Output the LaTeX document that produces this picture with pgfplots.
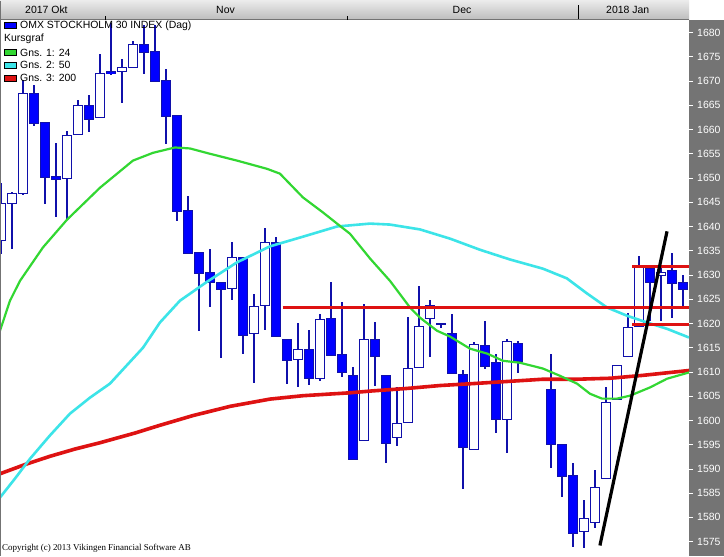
\documentclass[border=0pt]{standalone}
\usepackage{fontspec}
\setmainfont{Liberation Sans}
\newfontfamily\serifc{Liberation Serif}
\usepackage{pgfplots}
\usepackage{pgfplotstable}
\pgfplotsset{compat=1.18}
\definecolor{wickblue}{RGB}{16,16,170}
\definecolor{bodyblue}{RGB}{0,0,255}
\definecolor{maGreen}{RGB}{50,215,50}
\definecolor{maCyan}{RGB}{60,228,232}
\definecolor{maRed}{RGB}{222,18,18}
\definecolor{panelgray}{RGB}{116,116,116}

\pgfplotstableread{
k o h l c
0 1637.1 1648.9 1634.4 1644.7
1 1644.7 1647.2 1635.4 1646.8
2 1646.8 1670.3 1646.5 1667.4
3 1667.4 1669.3 1660.8 1661.2
4 1661.4 1661.6 1644.7 1650.1
5 1650.3 1657.3 1642.0 1649.7
6 1649.9 1659.6 1641.4 1658.8
7 1659.0 1666.0 1658.8 1664.9
8 1664.9 1667.2 1659.4 1662.1
9 1662.5 1675.5 1662.3 1671.5
10 1672.0 1682.0 1671.3 1671.5
11 1672.0 1674.6 1665.4 1672.8
12 1672.8 1678.3 1672.6 1677.5
13 1677.5 1681.5 1671.5 1675.9
14 1676.1 1681.5 1669.9 1669.9
15 1670.1 1672.6 1657.1 1662.7
16 1662.9 1663.0 1641.2 1643.1
17 1643.3 1646.2 1634.4 1634.4
18 1634.6 1634.8 1618.5 1630.3
19 1630.5 1635.4 1623.3 1628.4
20 1628.4 1628.5 1612.8 1627.0
21 1627.2 1636.9 1624.9 1633.6
22 1633.6 1633.8 1613.8 1617.5
23 1617.9 1626.0 1607.8 1623.5
24 1623.7 1639.8 1618.7 1636.7
25 1636.7 1637.9 1617.3 1617.3
26 1616.7 1616.8 1607.6 1612.3
27 1612.5 1620.2 1606.8 1614.6
28 1614.6 1618.7 1607.4 1608.6
29 1608.6 1622.0 1608.2 1620.8
30 1621.0 1628.6 1613.4 1613.4
31 1613.6 1624.5 1609.0 1609.9
32 1609.2 1611.1 1591.9 1591.9
33 1595.8 1624.1 1595.8 1616.7
34 1616.7 1620.4 1607.0 1613.2
35 1609.2 1609.3 1591.3 1595.2
36 1596.5 1607.0 1594.8 1599.3
37 1599.6 1621.4 1599.6 1610.7
38 1610.9 1627.8 1610.9 1619.4
39 1621.0 1624.9 1613.0 1623.7
40 1619.9 1620.2 1619.0 1619.7
41 1617.9 1622.0 1609.7 1609.7
42 1609.5 1610.5 1585.9 1594.4
43 1594.0 1616.1 1594.0 1615.6
44 1615.4 1620.6 1610.7 1611.1
45 1611.9 1613.6 1597.5 1600.2
46 1600.2 1616.9 1593.2 1616.3
47 1615.9 1616.3 1609.7 1612.1
50 1606.4 1613.8 1590.1 1595.0
51 1595.0 1595.1 1584.3 1588.4
52 1588.6 1591.3 1573.8 1576.7
53 1577.1 1583.5 1573.8 1579.7
54 1579.0 1589.7 1577.9 1586.2
55 1588.0 1606.8 1588.0 1603.7
56 1604.3 1611.5 1604.3 1611.3
57 1613.2 1622.2 1613.2 1619.1
58 1619.4 1634.0 1619.4 1631.9
59 1631.3 1631.5 1620.6 1628.5
60 1629.9 1631.5 1620.6 1630.5
61 1630.9 1634.6 1621.2 1628.2
62 1628.4 1630.1 1623.1 1627.0
}\ohlc

\pgfplotsset{
  candlebar/.style={draw=none, mark=none, forget plot,
    error bars/.cd, y dir=both, y explicit, error mark=none,
    error bar style={#1}},
}

\begin{document}
\begin{tikzpicture}
\begin{scope}[x=1bp,y=1bp]
\useasboundingbox (0,0) rectangle (724,555);
\fill[white] (0,0) rectangle (724,555);
\fill[panelgray] (689,0) rectangle (724,536);
\shade[top color=black!8, bottom color=black!26] (0,536) rectangle (689,555);
\draw[black!55, line width=0.8] (0,536.4) -- (689,536.4);
\end{scope}

\begin{axis}[
  at={(0,0)}, anchor=south west,
  scale only axis, width=689bp, height=536bp,
  xmin=-0.09, xmax=62.55,
  ymin=1572.12, ymax=1682.68,
  axis x line=none,
  axis y line*=right,
  y axis line style={draw=none},
  ytick={1575,1580,...,1680},
  tick align=outside,
  major tick length=4bp,
  ytick style={draw=white, line width=0.8bp},
  yticklabel style={font=\fontsize{10.5}{12}\selectfont, text=white, anchor=west, inner sep=0pt, xshift=4bp},
  /pgf/number format/assume math mode=true,
  /pgf/number format/1000 sep={},
  clip=true,
]
% wicks
\addplot[candlebar={draw=wickblue, line width=1.2bp}]
  table[x=k, y expr={(\thisrow{h}+\thisrow{l})/2}, y error expr={(\thisrow{h}-\thisrow{l})/2}] {\ohlc};
% body outline
\addplot[candlebar={draw=wickblue, line width=10bp}]
  table[x=k, y expr={(\thisrow{o}+\thisrow{c})/2}, y error expr={abs(\thisrow{o}-\thisrow{c})/2+0.11}] {\ohlc};
% down bodies (filled)
\addplot[candlebar={draw=bodyblue, line width=8bp}]
  table[x=k, y expr={(\thisrow{o}+\thisrow{c})/2}, y error expr={\thisrow{c}<\thisrow{o} ? max(abs(\thisrow{o}-\thisrow{c})/2-0.1,0) : 0}] {\ohlc};
% up bodies (white)
\addplot[candlebar={draw=white, line width=8bp}]
  table[x=k, y expr={(\thisrow{o}+\thisrow{c})/2}, y error expr={\thisrow{c}>\thisrow{o} ? max(abs(\thisrow{o}-\thisrow{c})/2-0.1,0) : 0}] {\ohlc};

% MA 200
\addplot[maRed, line width=3.6bp, line join=round, mark=none] coordinates {
(-0.09,1589.0) (2.18,1590.9) (4.45,1592.6) (6.73,1594.1) (9.0,1595.4) (12.18,1597.4)
(14.45,1599.0) (17.45,1601.0) (20.82,1602.9) (24.45,1604.4) (27.45,1605.1) (31.73,1605.7)
(33.82,1606.1) (36.91,1606.6) (39.91,1607.2) (42.91,1607.6) (47.18,1608.2) (49.27,1608.5)
(52.36,1608.5) (55.36,1608.7) (58.36,1609.3) (62.55,1610.3)};
% MA 50
\addplot[maCyan, line width=2.6bp, line join=round, mark=none] coordinates {
(-0.09,1584.1) (1.27,1588.0) (2.64,1592.1) (4.45,1596.9) (6.27,1601.4) (8.09,1604.7)
(9.91,1607.6) (12.91,1615.0) (14.45,1620.2) (16.27,1624.7) (18.73,1628.6) (21.45,1632.6)
(24.45,1635.9) (27.45,1637.9) (30.55,1640.0) (33.55,1640.6) (35.36,1640.4) (38.09,1639.4)
(40.82,1637.5) (43.55,1635.2) (46.27,1633.2) (49.27,1631.3) (51.45,1629.3) (53.27,1626.2)
(55.09,1623.3) (56.91,1621.6) (58.73,1620.2) (60.55,1618.9) (62.55,1617.1)};
% MA 24
\addplot[maGreen, line width=2.2bp, line join=round, mark=none] coordinates {
(-0.09,1618.5) (0.82,1624.7) (1.73,1628.8) (3.82,1635.7) (6.0,1641.4) (9.0,1648.0)
(12.0,1653.6) (13.82,1655.2) (15.82,1656.3) (17.18,1656.1) (19.0,1655.0) (21.45,1653.6)
(24.18,1651.9) (25.36,1650.9) (27.45,1646.0) (29.27,1642.9) (30.55,1640.6) (31.73,1638.5)
(33.55,1633.4) (35.36,1628.8) (37.18,1623.3) (38.09,1621.2) (39.64,1618.5) (40.82,1617.3)
(42.64,1614.8) (44.18,1613.8) (45.64,1612.3) (47.18,1611.9) (49.27,1610.7) (50.82,1609.2)
(52.36,1607.6) (53.55,1605.5) (54.64,1604.5) (56.0,1604.5) (57.18,1605.1) (59.0,1606.8)
(60.55,1608.6) (62.55,1609.9)};
% horizontal support/resistance lines
\addplot[maRed, line width=3.4bp, mark=none] coordinates {(25.6,1623.3) (62.55,1623.3)};
\addplot[maRed, line width=3.4bp, mark=none] coordinates {(57.4,1631.8) (62.55,1631.8)};
\addplot[maRed, line width=3.4bp, mark=none] coordinates {(57.4,1619.8) (62.55,1619.8)};
% trend line
\addplot[black, line width=3.2bp, mark=none] coordinates {(54.45,1574.2) (60.55,1639.0)};
\end{axis}

\begin{scope}[x=1bp,y=1bp]
\draw[black!55, line width=1.2] (0.6,0) -- (0.6,555);
% header labels
\node[anchor=west, inner sep=0pt, font=\fontsize{10.5}{12}\selectfont] at (25,546) {2017 Okt};
\node[anchor=center, inner sep=0pt, font=\fontsize{10.5}{12}\selectfont] at (225.5,546) {Nov};
\node[anchor=center, inner sep=0pt, font=\fontsize{10.5}{12}\selectfont] at (462,546) {Dec};
\node[anchor=west, inner sep=0pt, font=\fontsize{10.5}{12}\selectfont] at (606,546) {2018 Jan};
\draw[black, line width=0.8] (105.5,536) -- (105.5,540);
\draw[black, line width=0.8] (347.5,536) -- (347.5,540);
\draw[black, line width=0.8] (578.5,537) -- (578.5,551);
% legend
\def\lgfont{\fontsize{10.5}{12}\selectfont}
\filldraw[fill=bodyblue, draw=black, line width=0.6] (4.5,527) rectangle (16.5,533);
\node[anchor=west, inner sep=0pt, font=\lgfont] at (20,530) {OMX STOCKHOLM 30 INDEX (Dag)};
\node[anchor=west, inner sep=0pt, font=\lgfont] at (4,516.5) {Kursgraf};
\filldraw[fill=maGreen, draw=black, line width=0.6] (4.5,500) rectangle (16.5,506);
\node[anchor=west, inner sep=0pt, font=\lgfont] at (20,503) {Gns. 1: 24};
\filldraw[fill=maCyan, draw=black, line width=0.6] (4.5,487.3) rectangle (16.5,493.3);
\node[anchor=west, inner sep=0pt, font=\lgfont] at (20,490.3) {Gns. 2: 50};
\filldraw[fill=maRed, draw=black, line width=0.6] (4.5,474.5) rectangle (16.5,480.5);
\node[anchor=west, inner sep=0pt, font=\lgfont] at (20,477.5) {Gns. 3: 200};
% copyright
\node[anchor=south west, inner sep=0pt, font=\serifc\fontsize{9}{10}\selectfont] at (2,3) {Copyright (c) 2013 Vikingen Financial Software AB};
\end{scope}
\end{tikzpicture}
\end{document}
